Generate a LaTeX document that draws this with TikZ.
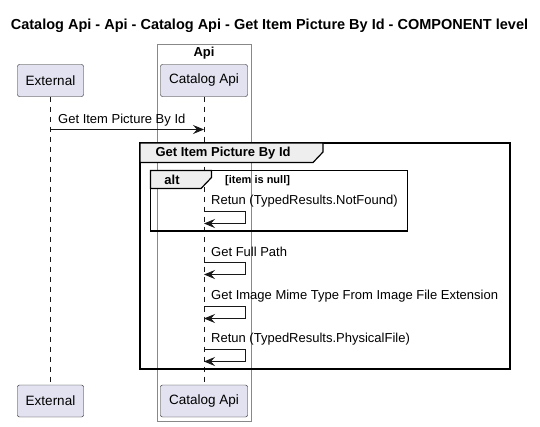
\documentclass[tikz,border=0pt]{standalone}
\usepackage{fontspec}
\setmainfont{Liberation Sans}
\usetikzlibrary{arrows.meta}

\definecolor{partfill}{HTML}{E2E2F0}
\definecolor{partline}{HTML}{181818}
\definecolor{tabfill}{HTML}{EEEEEE}
\definecolor{boxline}{HTML}{888888}

\begin{document}
\begin{tikzpicture}[x=1pt,y=-1pt,
  participant/.style={shape=rectangle,rounded corners=2pt,draw=partline,fill=partfill,
    minimum height=32pt,inner xsep=8pt,font=\fontsize{13.5}{15}\selectfont},
  lifeline/.style={draw=partline,dash pattern=on 5pt off 5pt,line width=0.5pt},
  msg/.style={draw=partline,line width=0.8pt,-{Stealth[length=11pt,width=9pt,inset=4pt]}},
  label/.style={anchor=west,inner sep=0pt,font=\fontsize{13}{15}\selectfont},
  frame/.style={draw=black,line width=1.5pt},
  tab/.style={draw=black,line width=1.2pt,fill=tabfill}]
\useasboundingbox (0,0) rectangle (540,426);
% title
\node[font=\bfseries\fontsize{14.5}{17}\selectfont] (title) at (269.5,25.5) {Catalog Api - Api - Catalog Api - Get Item Picture By Id - COMPONENT level};
% box Api
\draw[boxline,line width=0.8pt] (157,44) rectangle (251,421);
\node[font=\bfseries\fontsize{13}{15}\selectfont] (apibox) at (204,53.5) {Api};
% participants
\node[participant,minimum width=66pt] (ext) at (50.5,80.5) {External};
\node[participant,minimum width=87pt] (cat) at (204,80.5) {Catalog Api};
\node[participant,minimum width=66pt] (extb) at (50.5,401) {External};
\node[participant,minimum width=87pt] (catb) at (204,401) {Catalog Api};
\draw[lifeline] (ext) -- (extb);
\draw[lifeline] (cat) -- (catb);
% call
\coordinate (c0) at (50.5,129.5);
\node[label] (c0lbl) at ([xshift=7.5pt,yshift=9.5pt]c0) {Get Item Picture By Id};
\draw[msg] (c0) -- (c0 -| cat);
% group
\draw[frame] (140,143) rectangle (510,369);
\draw[tab] (140,143) -- (323,143) -- (323,152) -- (313,162.5) -- (140,162.5) -- cycle;
\node[anchor=west,font=\bfseries\fontsize{13}{15}\selectfont] (grp) at (152,153) {Get Item Picture By Id};
% alt
\draw[frame] (150.5,170.5) rectangle (407.5,231);
\draw[tab] (150.5,170.5) -- (211.5,170.5) -- (211.5,177.5) -- (201,188.5) -- (150.5,188.5) -- cycle;
\node[font=\bfseries\fontsize{13}{15}\selectfont] (alt) at (172,180) {alt};
\node[anchor=west,inner sep=0pt,font=\bfseries\fontsize{11}{13}\selectfont] (guard) at (225,181) {[item is null]};
% self calls
\foreach \n/\y/\txt in {s1/211/{Retun (TypedResults.NotFound)},
                       s2/262/{Get Full Path},
                       s3/306/{Get Image Mime Type From Image File Extension},
                       s4/349/{Retun (TypedResults.PhysicalFile)}} {
  \coordinate (\n) at (cat |- 0,\y);
  \node[label] (\n lbl) at ([xshift=7pt,yshift=10pt]\n) {\txt};
  \draw[msg] (\n) -- ++(41.5,0) -- ++(0,12.5) -- ++(-41.5,0);
}
\end{tikzpicture}
\end{document}
